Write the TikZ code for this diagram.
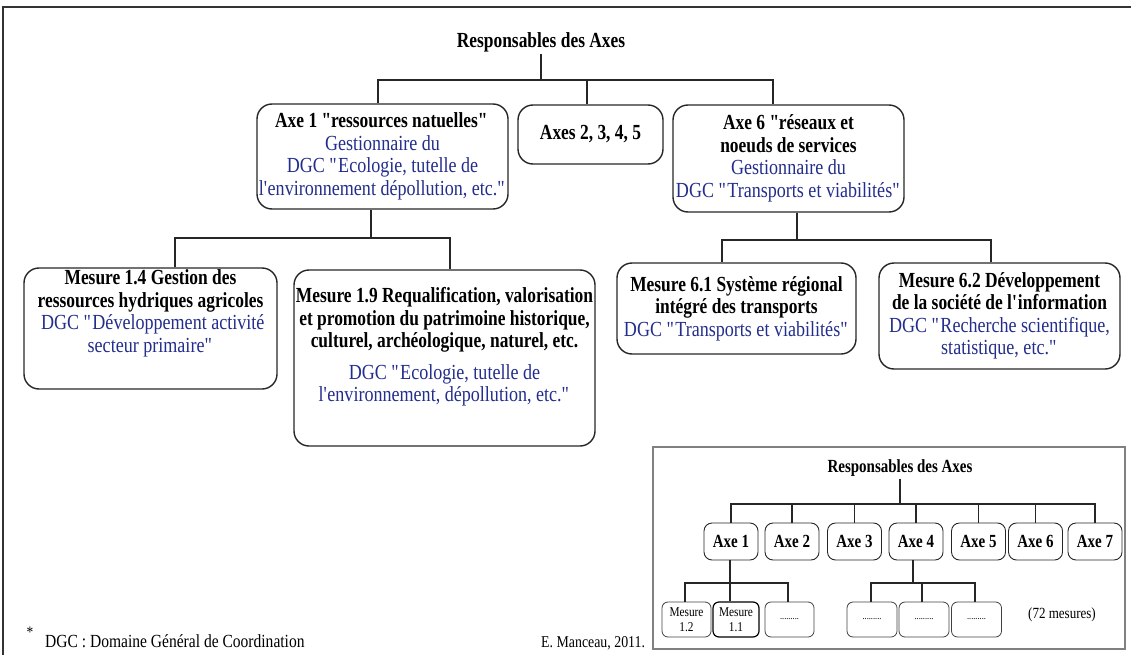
\documentclass[tikz,border=0pt]{standalone}
\usepackage{fontspec}
\setmainfont{Liberation Serif}[FakeStretch=0.84, BoldFeatures={FakeStretch=0.81}]
\definecolor{dgcblue}{RGB}{35,45,140}
\newcommand\mainsz{\fontsize{21.5}{22.5}\selectfont}
\newcommand\dgc[1]{\textcolor{dgcblue}{#1}}
\newcommand\apos{\textquotesingle}
\newcommand\qq{\textquotedbl}
\newcommand\qb{\textquotedbl\kern-2.5pt}
\tikzset{
  conn/.style={line width=1.3pt, draw=black!85},
  bigbox/.style={draw=black!85, line width=1.4pt, rounded corners=15pt, inner sep=0pt},
  txt/.style={align=center, font=\mainsz, inner sep=0pt},
  frame/.style={line width=1.8pt, draw=black!80},
  inframe/.style={line width=1.2pt, draw=black!50},
  iconn/.style={line width=1.1pt, draw=black!85},
  axbox/.style={draw=black!85, line width=0.9pt, rounded corners=8pt, minimum width=54pt, minimum height=37pt, inner sep=0pt, font=\bfseries\fontsize{18.5}{20}\selectfont},
  msbox/.style={draw=black!75, line width=0.8pt, rounded corners=6pt, minimum width=49pt, minimum height=35pt, inner sep=0pt, align=center, font=\fontsize{13.5}{15}\selectfont},
  dotbox/.style={msbox, font=\fontsize{10}{11}\selectfont},
}
\begin{document}
\begin{tikzpicture}[x=1pt,y=-1pt]
\useasboundingbox (0,0) rectangle (1131,655);
% outer frame (top and left edges)
\coordinate (fr0) at (3,655);
\coordinate (fr1) at (3,7);
\coordinate (fr2) at (1131,7);
\draw[frame] (fr0) -- (fr1) -- (fr2);

% title
\node[font=\bfseries\mainsz, inner sep=2pt] (title) at (541,42) {Responsables des Axes};

% level 1
\node[bigbox, minimum width=251pt, minimum height=105pt, txt] (a1) at (382.5,156.5)
  {\textbf{Axe 1 \qb{}ressources natuelles\qq{}}\\ \dgc{Gestionnaire du}\\ \dgc{DGC \qq{}Ecologie, tutelle de}\\ \dgc{l\apos environnement dépollution, etc.\qq{}}};
\node[bigbox, minimum width=145pt, minimum height=59pt, txt] (a25) at (590.5,134.5)
  {\textbf{Axes 2, 3, 4, 5}};
\node[bigbox, minimum width=231pt, minimum height=107pt, txt] (a6) at (788.5,158.5)
  {\textbf{Axe 6 \qb{}réseaux et}\\ \textbf{noeuds de services}\\ \dgc{Gestionnaire du}\\ \dgc{DGC \qq{}Transports et viabilités\qq{}}};

% level 2
\node[bigbox, minimum width=253pt, minimum height=121pt] (m14) at (150.5,328.5) {};
\node[txt] (m14t) at (150.5,313.5)
  {\textbf{Mesure 1.4 Gestion des}\\ \textbf{ressources hydriques agricoles}\\ \dgc{\ DGC \qq{}Développement activité}\\ \dgc{secteur primaire\qq{}}};
\node[bigbox, minimum width=301pt, minimum height=176pt] (m19) at (444.5,358) {};
\node[txt] (m19t) at (444.5,347)
  {\textbf{Mesure 1.9 Requalification, valorisation}\\ \textbf{et promotion du patrimoine historique,}\\ \textbf{culturel, archéologique, naturel, etc.}\\[9pt] \dgc{DGC \qq{}Ecologie, tutelle de}\\ \dgc{l\apos environnement, dépollution, etc.\qq{}}};
\node[bigbox, minimum width=239pt, minimum height=91pt, txt] (m61) at (736.5,308.5)
  {\textbf{Mesure 6.1 Système régional}\\ \textbf{intégré des transports}\\ \dgc{DGC \qq{}Transports et viabilités\qq{}}};
\node[bigbox, minimum width=241pt, minimum height=106pt, txt] (m62) at (999.5,316)
  {\textbf{Mesure 6.2 Développement}\\ \textbf{de la société de l\apos information}\\ \dgc{DGC \qq{}Recherche scientifique,}\\ \dgc{statistique, etc.\qq{}}};

% connectors main tree
\coordinate (j0) at (541,80);
\draw[conn] (title.south) -- (j0);
\draw[conn] ([xshift=-4.5pt]a1.north) |- (j0) -| ([xshift=-15.5pt]a6.north);
\draw[conn] ([xshift=-3.5pt]a25.north) -- ([xshift=-3.5pt]a25.north |- j0);
\coordinate (j1) at (371,238);
\draw[conn] (a1.south -| j1) -- (j1);
\draw[conn] ([xshift=24.5pt]m14.north) |- (j1) -| ([xshift=5.5pt]m19.north);
\coordinate (j2) at (797,240);
\draw[conn] (a6.south -| j2) -- (j2);
\draw[conn] ([xshift=-14.5pt]m61.north) |- (j2) -| ([xshift=-8.5pt]m62.north);

% inset
\coordinate (if0) at (653,447);
\coordinate (if1) at (1125,649);
\draw[inframe] (if0) rectangle (if1);
\node[font=\bfseries\fontsize{18.5}{20}\selectfont, inner sep=2pt] (ititle) at (900,468) {Responsables des Axes};
\node[axbox] (x1) at (731,541.5) {Axe 1};
\node[axbox] (x2) at (792,541.5) {Axe 2};
\node[axbox] (x3) at (854.5,541.5) {Axe 3};
\node[axbox] (x4) at (916,541.5) {Axe 4};
\node[axbox] (x5) at (978.5,541.5) {Axe 5};
\node[axbox] (x6) at (1035.5,541.5) {Axe 6};
\node[axbox] (x7) at (1095,541.5) {Axe 7};
\coordinate (ij0) at (900,504);
\draw[iconn] (ititle.south) -- (ij0);
\draw[iconn] (x1.north) |- (ij0) -| (x7.north);
\foreach \n in {x2,x3,x4,x5,x6}{\draw[iconn] (\n.north) -- (\n.north |- ij0);}

\node[msbox] (s12) at (686.5,619.5) {Mesure\\1.2};
\node[msbox, draw=black, line width=1.2pt, minimum width=46pt] (s11) at (736,619.5) {Mesure\\1.1};
\node[dotbox] (s1d) at (789.5,619.5) {.........};
\node[dotbox, minimum width=50pt] (s41) at (872,619.5) {.........};
\node[dotbox, minimum width=50pt] (s42) at (924,619.5) {.........};
\node[dotbox, minimum width=50pt] (s43) at (976.5,619.5) {.........};
\coordinate (ij1) at (730,583);
\draw[iconn] (x1.south -| ij1) -- (ij1 |- s11.north);
\draw[iconn] ([xshift=-1.5pt]s12.north) |- (ij1) -| ([xshift=-1.5pt]s1d.north);
\coordinate (ij4) at (913,583);
\draw[iconn] (x4.south -| ij4) -- (ij4);
\draw[iconn] ([xshift=-1pt]s41.north) |- (ij4) -| ([xshift=-1.5pt]s43.north);
\draw[iconn] ([xshift=-2pt]s42.north) -- ([xshift=-2pt]s42.north |- ij4);
\node[font=\fontsize{15.5}{17}\selectfont] (m72) at (1062,615) {(72 mesures)};

% footer
\node[font=\fontsize{16}{18}\selectfont, inner sep=0pt] (star) at (30,632) {*};
\node[anchor=base west, font=\fontsize{18.5}{20}\selectfont, inner sep=0pt] (dgcnote) at (45,647) {DGC : Domaine Général de Coordination};
\node[anchor=base west, font=\fontsize{16.5}{18}\selectfont, inner sep=0pt] (author) at (541,647) {E. Manceau, 2011.};
\end{tikzpicture}
\end{document}
